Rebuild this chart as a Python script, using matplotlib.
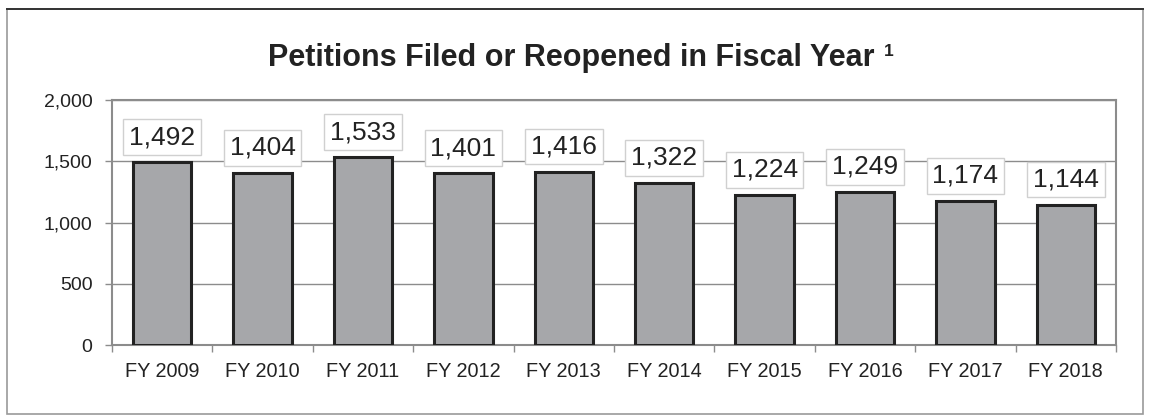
import matplotlib
matplotlib.use("Agg")
import matplotlib.pyplot as plt
from matplotlib.patches import Rectangle
from matplotlib.lines import Line2D
import numpy as np

categories = ["FY 2009", "FY 2010", "FY 2011", "FY 2012", "FY 2013",
              "FY 2014", "FY 2015", "FY 2016", "FY 2017", "FY 2018"]
values = [1492, 1404, 1533, 1401, 1416, 1322, 1224, 1249, 1174, 1144]
yticks = [0, 500, 1000, 1500, 2000]
title = "Petitions Filed or Reopened in Fiscal Year"
title_note = "1"

plt.rcParams['font.family'] = ['Liberation Sans', 'DejaVu Sans']
text_color = "#222222"
grid_color = "#8c8c8c"

fig = plt.figure(figsize=(11.52, 4.16), dpi=100)
fig.patch.set_facecolor("white")

# outer frame
fig.add_artist(Rectangle((7/1152, 2/416), 1136/1152, 405/416, transform=fig.transFigure,
                         fill=False, edgecolor="#9a9a9a", linewidth=1.2))
fig.add_artist(Line2D([7/1152, 1143/1152], [407/416, 407/416], transform=fig.transFigure,
                      color="#333333", linewidth=1.4))

ax = fig.add_axes([112/1152, 1 - 345/416, (1116 - 112)/1152, (345 - 100)/416])
x = np.arange(len(categories))
ax.bar(x, values, width=0.58, color="#a6a7aa", edgecolor="#222222", linewidth=2.2, zorder=3)

ax.set_xlim(-0.5, len(categories) - 0.5)
ax.set_ylim(0, 2000)
ax.set_yticks(yticks)
ax.set_yticklabels([f"{v:,}" for v in yticks])
ax.set_xticks(x)
ax.set_xticklabels(categories)
ax.set_xticks(np.arange(-0.5, len(categories), 1.0), minor=True)

ax.tick_params(axis='x', which='major', length=0, pad=12, labelsize=14.3, labelcolor=text_color)
ax.tick_params(axis='x', which='minor', length=5, width=1, color=grid_color, direction='out')
ax.tick_params(axis='y', length=5, width=1, color=grid_color, pad=9, labelsize=14, labelcolor=text_color)

ax.yaxis.grid(True, color=grid_color, linewidth=1.0, zorder=0)
ax.set_axisbelow(True)
for side in ['left', 'right', 'top', 'bottom']:
    ax.spines[side].set_color(grid_color)
    ax.spines[side].set_linewidth(1.5)

for xi, v in zip(x, values):
    ax.annotate(f"{v:,}", xy=(xi, v), xytext=(0, 9.5), textcoords='offset points',
                ha='center', va='bottom', fontsize=19, color=text_color, zorder=5,
                bbox=dict(boxstyle='square,pad=0.22', facecolor='white',
                          edgecolor='#d0d0d0', linewidth=1.0))

fig.text(268/1152, 1 - 58/416, title, ha='left', va='center', fontsize=22,
         fontweight='bold', color=text_color)
fig.text(884/1152, 1 - 52/416, title_note, ha='left', va='center', fontsize=12.5,
         fontweight='bold', color=text_color)

fig.savefig("out.png", dpi=100)
